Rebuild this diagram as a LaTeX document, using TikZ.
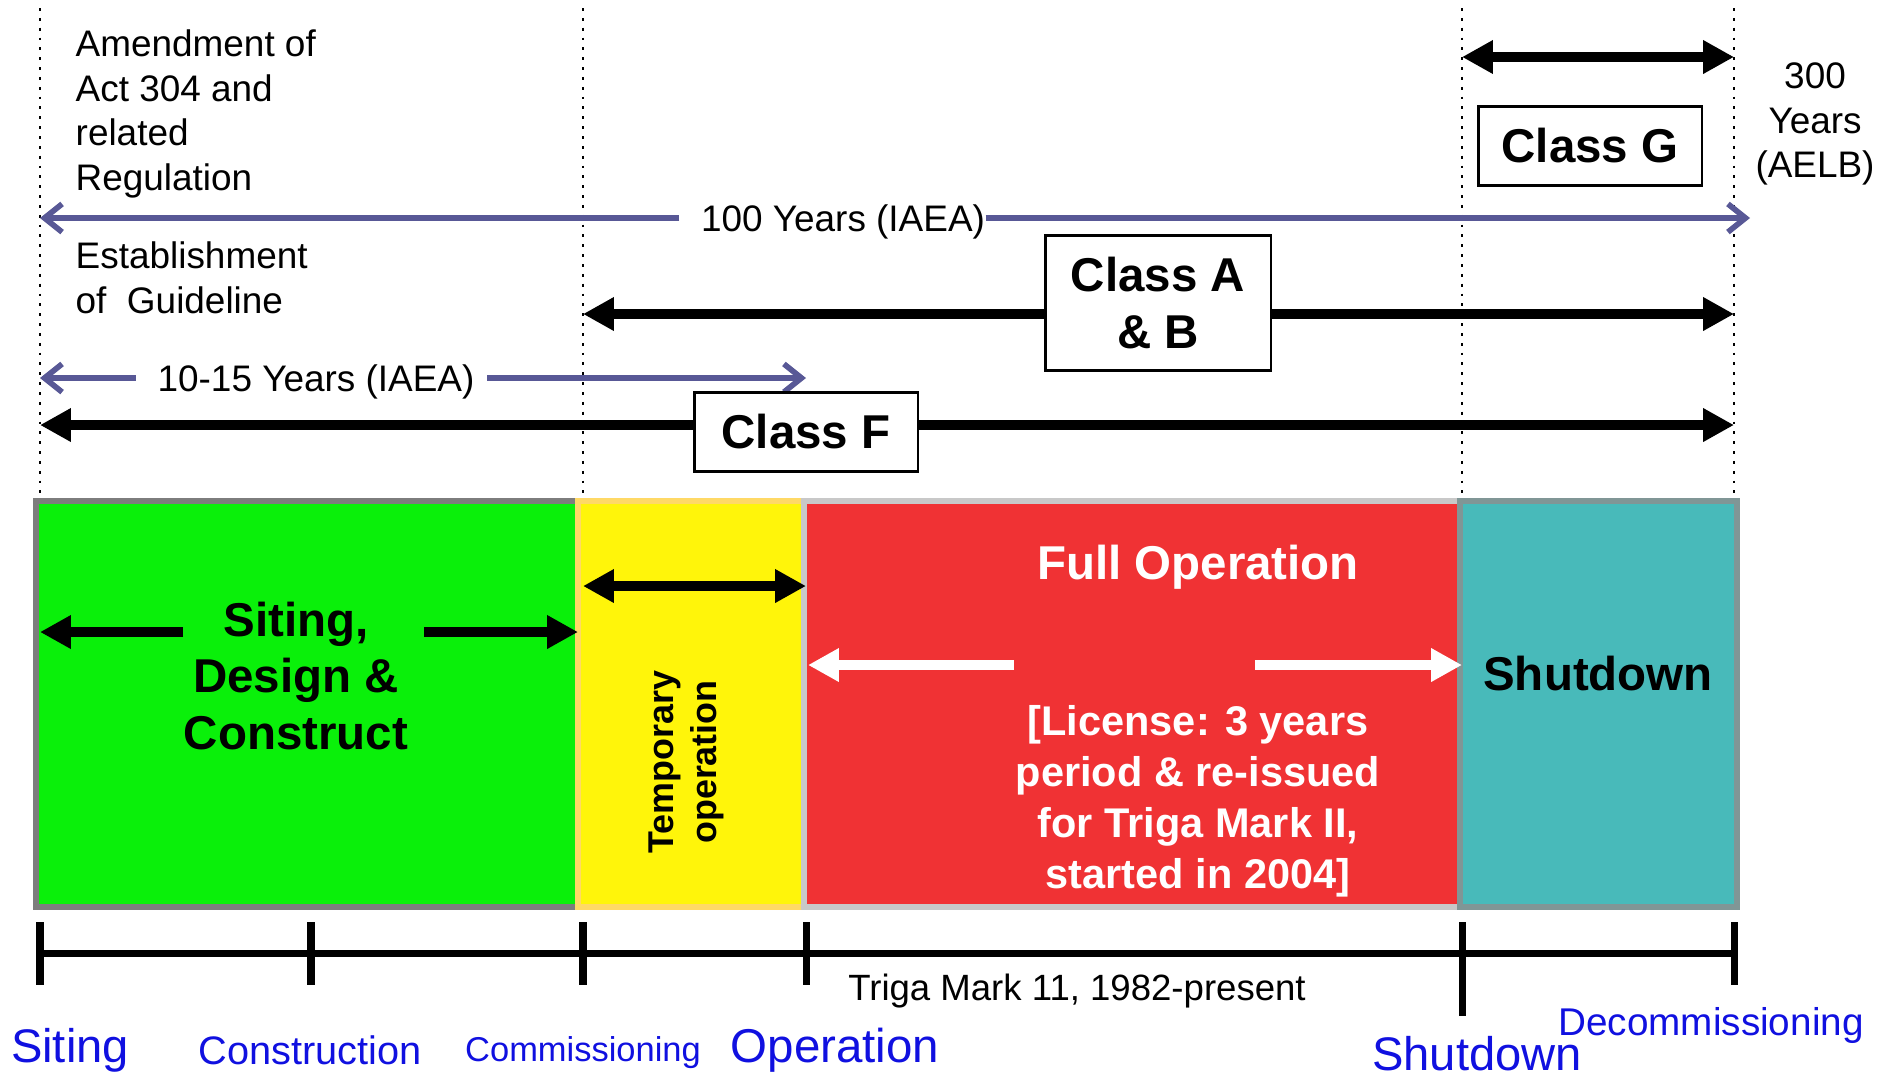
\documentclass[tikz,border=0pt]{standalone}
\usepackage{fontspec}
\setmainfont{Liberation Sans}
\usetikzlibrary{arrows.meta}

\definecolor{slate}{RGB}{88,88,150}
\definecolor{sitegreen}{RGB}{10,240,10}
\definecolor{sitedge}{RGB}{125,125,125}
\definecolor{tempyellow}{RGB}{255,245,10}
\definecolor{tempedge}{RGB}{255,217,102}
\definecolor{opred}{RGB}{240,50,52}
\definecolor{opedge}{RGB}{200,200,200}
\definecolor{shutteal}{RGB}{72,186,186}
\definecolor{shutedge}{RGB}{128,150,150}
\definecolor{phaseblue}{RGB}{16,16,224}

\tikzset{
  bigarr/.style={line width=2.85pt, >={Triangle[length=8.8pt,width=9pt]}},
  slatearr/.style={draw=slate, line width=1.6pt, >={Straight Barb[length=5pt,width=8pt]}},
  guideline/.style={dotted, line width=0.8pt},
  classbox/.style={draw, line width=0.6pt, fill=white, align=center, inner sep=0pt,
    font=\fontsize{13.5}{16.2}\selectfont\bfseries},
  note/.style={font=\fontsize{10.5}{12.7}\selectfont, align=left, inner sep=0pt},
  phase/.style={line width=1.7pt},
  bigbold/.style={font=\fontsize{13.5}{16.2}\selectfont\bfseries, align=center, inner sep=0pt},
  stage/.style={text=phaseblue, inner sep=0pt},
  tick/.style={line width=2pt},
}

\begin{document}
\begin{tikzpicture}[x=0.01cm, y=-0.01cm]
    \useasboundingbox (0,0) rectangle (1892,1078);

    % time marks
    \coordinate (m0) at (40,953);
    \coordinate (m1) at (311,953);
    \coordinate (m2) at (583,953);
    \coordinate (m3) at (806,953);
    \coordinate (m4) at (1462,953);
    \coordinate (m5) at (1734,953);

    % arrow ends
    \coordinate (gL) at (1462,57);
    \coordinate (gR) at (1734,57);
    \coordinate (abL) at (583,314);
    \coordinate (abR) at (1734,314);
    \coordinate (fL) at (40,425);
    \coordinate (fR) at (1734,425);
    \coordinate (y100L) at (40,218);
    \coordinate (y100R) at (1750,218);
    \coordinate (y15L) at (40,378);
    \coordinate (y15R) at (806,378);
    \coordinate (sdcL) at (40,632);
    \coordinate (sdcA) at (183,632);
    \coordinate (sdcB) at (424,632);
    \coordinate (sdcR) at (578,632);
    \coordinate (tmpL) at (583,586);
    \coordinate (tmpR) at (806,586);
    \coordinate (fopL) at (808,665);
    \coordinate (fopA) at (1014,665);
    \coordinate (fopB) at (1255,665);
    \coordinate (fopR) at (1462,665);

    % dotted guides
    \draw[guideline] (40,8) -- (40,501);
    \draw[guideline] (583,8) -- (583,501);
    \draw[guideline] (1462,8) -- (1462,501);
    \draw[guideline] (1734,8) -- (1734,501);

    % texts on top
    \node[note, anchor=west] (amend) at (75,114) {Amendment of\\Act 304 and\\related\\Regulation};
    \node[note, anchor=west] (estab) at (75,278) {Establishment\\of\ \ Guideline};
    \node[note, align=center] (yr300) at (1815,124) {300\\Years\\(AELB)};

    % IAEA spans
    \node[note] (yr100) at (843,222) {100 Years (IAEA)};
    \draw[slatearr, ->, shorten <=0.21cm] (yr100.west |- y100L) -- (y100L);
    \draw[slatearr, ->] (yr100.east |- y100R) -- (y100R);
    \node[note] (yr15) at (316,382) {10-15 Years (IAEA)};
    \draw[slatearr, ->, shorten <=0.21cm] (yr15.west |- y15L) -- (y15L);
    \draw[slatearr, ->, shorten <=0.12cm] (yr15.east |- y15R) -- (y15R);

    % class spans
    \draw[bigarr, <->] (gL) -- (gR);
    \draw[bigarr, <->] (abL) -- (abR);
    \draw[bigarr, <->] (fL) -- (fR);
    \node[classbox, minimum width=2.25cm, minimum height=1.35cm] (clsab) at (1158,303) {Class A\\\& B};
    \node[classbox, minimum width=2.23cm, minimum height=0.79cm] (clsf) at (806,432) {Class F};
    \node[classbox, minimum width=2.23cm, minimum height=0.79cm] (clsg) at (1590,146) {Class G};

    % phases
    \draw[phase, draw=sitedge, fill=sitegreen] (36,501) rectangle (578,907);
    \draw[phase, draw=tempedge, fill=tempyellow] (578,501) rectangle (804,907);
    \draw[phase, draw=opedge, fill=opred] (804,501) rectangle (1460,907);
    \draw[phase, draw=shutedge, fill=shutteal] (1460,501) rectangle (1737,907);

    \node[bigbold] (sdc) at (296,676) {Siting,\\Design \&\\Construct};
    \draw[bigarr, ->] (sdcA) -- (sdcL);
    \draw[bigarr, ->] (sdcB) -- (sdcR);

    \draw[bigarr, <->] (tmpL) -- (tmpR);
    \node[rotate=90, font=\fontsize{10.2}{12.2}\selectfont\bfseries, align=center, inner sep=0pt] (tempop) at (686,762) {Temporary\\operation};

    \node[bigbold, text=white] (fullop) at (1198,567) {Full Operation};
    \draw[bigarr, white, ->] (fopA) -- (fopL);
    \draw[bigarr, white, ->] (fopB) -- (fopR);
    \node[text=white, font=\fontsize{11.8}{14.5}\selectfont\bfseries, align=center, inner sep=0pt] (licence) at (1198,801) {[License: 3 years\\period \& re-issued\\for Triga Mark II,\\started in 2004]};

    \node[bigbold] (shutin) at (1598,674) {Shutdown};

    % timeline
    \draw[tick] (m0) -- (m5);
    \draw[tick] (m0) ++(0,-31) -- ++(0,63);
    \draw[tick] (m1) ++(0,-31) -- ++(0,63);
    \draw[tick] (m2) ++(0,-31) -- ++(0,63);
    \draw[tick] (m3) ++(0,-31) -- ++(0,63);
    \draw[tick] (m4) ++(0,-31) -- ++(0,94);
    \draw[tick] (m5) ++(0,-31) -- ++(0,63);

    \node[font=\fontsize{10.4}{12}\selectfont, inner sep=0pt] (triga) at (1077,991) {Triga Mark 11, 1982-present};

    \node[stage, font=\fontsize{13.4}{16}\selectfont] (stsiting) at (70,1050) {Siting};
    \node[stage, font=\fontsize{11.3}{13}\selectfont] (stcons) at (310,1050) {Construction};
    \node[stage, font=\fontsize{9.8}{12}\selectfont] (stcomm) at (583,1053) {Commissioning};
    \node[stage, font=\fontsize{13.5}{16}\selectfont] (stop) at (835,1050) {Operation};
    \node[stage, font=\fontsize{13.4}{16}\selectfont] (stshut) at (1477,1054) {Shutdown};
    \node[stage, font=\fontsize{11}{13}\selectfont] (stdecom) at (1711,1025) {Decommissioning};
\end{tikzpicture}
\end{document}
